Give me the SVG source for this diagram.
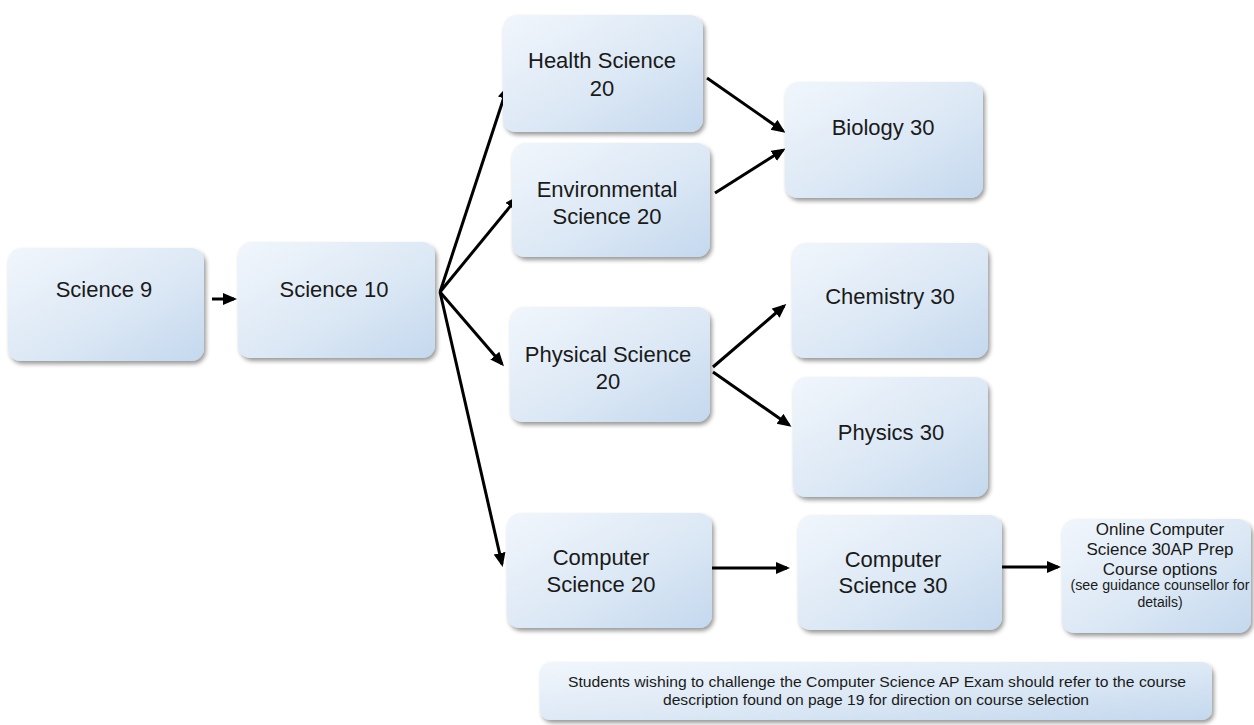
<svg xmlns="http://www.w3.org/2000/svg" width="1254" height="725" viewBox="0 0 1254 725">
<defs>
<linearGradient id="g" x1="0" y1="0" x2="1" y2="1">
<stop offset="0" stop-color="#f1f6fc"/>
<stop offset="0.55" stop-color="#dce8f5"/>
<stop offset="1" stop-color="#c4d8ee"/>
</linearGradient>
<filter id="sh" x="-10%" y="-10%" width="125%" height="130%">
<feDropShadow dx="2" dy="3" stdDeviation="2.2" flood-color="#000" flood-opacity="0.4"/>
</filter>
<marker id="ah" markerUnits="userSpaceOnUse" markerWidth="16" markerHeight="13" refX="11" refY="6" orient="auto">
<path d="M0,0 L14,6 L0,12 z" fill="#000"/>
</marker>
</defs>
<style>
.box{fill:url(#g);filter:url(#sh)}
.t{font-family:"Liberation Sans",Arial,sans-serif;font-size:22px;fill:#1a1a1a;text-anchor:middle}
.m{font-size:17px}
.s{font-size:14px}
.n{font-size:14px}
.c{stroke:#000;stroke-width:3;fill:none;marker-end:url(#ah)}
</style>
<rect width="1254" height="725" fill="#fff"/>
<g id="connectors">
<line class="c" x1="212" y1="299" x2="234" y2="299"/>
<line class="c" x1="440" y1="292" x2="507" y2="88"/>
<line class="c" x1="440" y1="292" x2="517" y2="198"/>
<line class="c" x1="440" y1="292" x2="502" y2="364"/>
<line class="c" x1="440" y1="292" x2="502" y2="564"/>
<line class="c" x1="707" y1="78" x2="783" y2="131"/>
<line class="c" x1="715" y1="193" x2="783" y2="150"/>
<line class="c" x1="713" y1="367" x2="784" y2="306"/>
<line class="c" x1="713" y1="372" x2="789" y2="425"/>
<line class="c" x1="712" y1="568" x2="787" y2="568"/>
<line class="c" x1="1002" y1="567" x2="1058" y2="567"/>
</g>
<g id="science9"><rect class="box" x="8" y="248" width="196" height="113" rx="13"/><text class="t" x="104" y="297">Science 9</text></g>
<g id="science10"><rect class="box" x="238" y="242" width="197" height="116" rx="13"/><text class="t" x="334" y="297">Science 10</text></g>
<g id="health20"><rect class="box" x="503" y="15" width="200" height="117" rx="13"/><text class="t" x="602" y="68">Health Science</text><text class="t" x="602" y="96">20</text></g>
<g id="env20"><rect class="box" x="512" y="143" width="198" height="114" rx="13"/><text class="t" x="607" y="197">Environmental</text><text class="t" x="607" y="224">Science 20</text></g>
<g id="bio30"><rect class="box" x="785" y="82" width="198" height="116" rx="13"/><text class="t" x="883" y="135">Biology 30</text></g>
<g id="chem30"><rect class="box" x="792" y="243" width="196" height="115" rx="13"/><text class="t" x="890" y="304">Chemistry 30</text></g>
<g id="phys20"><rect class="box" x="510" y="307" width="200" height="115" rx="13"/><text class="t" x="608" y="362">Physical Science</text><text class="t" x="608" y="389">20</text></g>
<g id="physics30"><rect class="box" x="793" y="377" width="195" height="120" rx="13"/><text class="t" x="891" y="440">Physics 30</text></g>
<g id="cs20"><rect class="box" x="507" y="513" width="205" height="115" rx="13"/><text class="t" x="601" y="565">Computer</text><text class="t" x="601" y="592">Science 20</text></g>
<g id="cs30"><rect class="box" x="798" y="515" width="204" height="115" rx="13"/><text class="t" x="893" y="567">Computer</text><text class="t" x="893" y="593">Science 30</text></g>
<g id="online"><rect class="box" x="1062" y="519" width="189" height="114" rx="13"/><text class="t m" x="1160" y="535">Online Computer</text><text class="t m" x="1160" y="555">Science 30AP Prep</text><text class="t m" x="1160" y="575">Course options</text><text class="t s" x="1160" y="590" textLength="179" lengthAdjust="spacingAndGlyphs">(see guidance counsellor for</text><text class="t s" x="1160" y="607">details)</text></g>
<g id="note"><rect class="box" x="540" y="662" width="672" height="58" rx="10"/><text class="t n" x="877" y="687" textLength="618" lengthAdjust="spacingAndGlyphs">Students wishing to challenge the Computer Science AP Exam should refer to the course</text><text class="t n" x="876" y="705" textLength="426" lengthAdjust="spacingAndGlyphs">description found on page 19 for direction on course selection</text></g>
</svg>
